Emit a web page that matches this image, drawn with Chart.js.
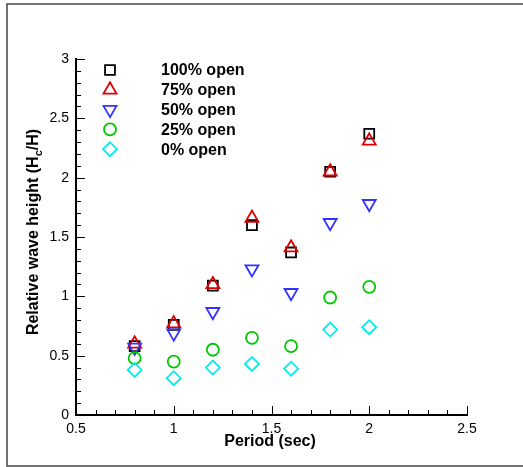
<!DOCTYPE html>
<html>
<head>
<meta charset="UTF-8">
<title>Relative wave height</title>
<script src="https://cdn.jsdelivr.net/npm/chart.js"></script>
<style>
    body { margin: 0; background: #fff; }
    canvas { display: block; }
</style>
</head>
<body>
<canvas id="chart" width="523" height="467"></canvas>
<script>
    // data
    const periods = [0.8, 1.0, 1.2, 1.4, 1.6, 1.8, 2.0];
    const open100 = [0.58, 0.76, 1.09, 1.60, 1.37, 2.05, 2.37];
    const open75  = [0.60, 0.77, 1.10, 1.66, 1.41, 2.05, 2.31];
    const open50  = [0.57, 0.69, 0.87, 1.23, 1.03, 1.62, 1.78];
    const open25  = [0.48, 0.45, 0.55, 0.65, 0.58, 0.99, 1.08];
    const open0   = [0.38, 0.31, 0.40, 0.43, 0.39, 0.72, 0.74];
    const seriesNames = ['100% open', '75% open', '50% open', '25% open', '0% open'];
    const xTicks = [0.5, 1, 1.5, 2, 2.5];
    const yTicks = [0, 0.5, 1, 1.5, 2, 2.5, 3];

    const toPoints = (vals) => vals.map((v, i) => ({ x: periods[i], y: v }));

    const styles = [
        { color: '#000000', pointStyle: 'rect', rotation: 0, radius: 7 },
        { color: '#dd0000', pointStyle: 'triangle', rotation: 0, radius: 7.5 },
        { color: '#3333ff', pointStyle: 'triangle', rotation: 180, radius: 7.5 },
        { color: '#00c800', pointStyle: 'circle', rotation: 0, radius: 6 },
        { color: '#00eeee', pointStyle: 'rectRot', rotation: 0, radius: 7 }
    ];
    const allValues = [open100, open75, open50, open25, open0];

    const datasets = allValues.map((vals, i) => ({
        label: seriesNames[i],
        data: toPoints(vals),
        pointStyle: styles[i].pointStyle,
        rotation: styles[i].rotation,
        radius: styles[i].radius,
        hoverRadius: styles[i].radius,
        borderColor: styles[i].color,
        backgroundColor: 'rgba(0,0,0,0)',
        borderWidth: 1.8,
        order: 5 - i
    }));

    // inward ticks, legend, axis titles and outer frame
    const decorations = {
        id: 'decorations',
        afterDraw(chart) {
            const ctx = chart.ctx;
            const xs = chart.scales.x, ys = chart.scales.y;
            const area = chart.chartArea;
            ctx.save();
            ctx.strokeStyle = '#000';
            ctx.lineWidth = 1;
            for (let k = 5; k <= 25; k++) {
                const px = Math.round(xs.getPixelForValue(k / 10)) + 0.5;
                const len = k % 5 === 0 ? 9 : 5;
                ctx.beginPath();
                ctx.moveTo(px, area.bottom);
                ctx.lineTo(px, area.bottom - len);
                ctx.stroke();
            }
            for (let k = 0; k <= 30; k++) {
                const py = Math.round(ys.getPixelForValue(k / 10)) + 0.5;
                const len = k % 5 === 0 ? 9 : 5;
                ctx.beginPath();
                ctx.moveTo(area.left, py);
                ctx.lineTo(area.left + len, py);
                ctx.stroke();
            }

            // legend
            ctx.font = 'bold 16px Arial, "Liberation Sans", sans-serif';
            ctx.textBaseline = 'middle';
            ctx.textAlign = 'left';
            seriesNames.forEach((name, i) => {
                const y = 70 + i * 19.8;
                ctx.strokeStyle = styles[i].color;
                ctx.fillStyle = 'rgba(0,0,0,0)';
                ctx.lineWidth = 1.8;
                Chart.helpers.drawPoint(ctx, {
                    pointStyle: styles[i].pointStyle,
                    rotation: styles[i].rotation,
                    radius: styles[i].radius,
                    borderWidth: 1.8
                }, 110, y);
                ctx.fillStyle = '#000';
                ctx.fillText(name, 161, y + 1);
            });

            // x title
            ctx.fillStyle = '#000';
            ctx.textAlign = 'center';
            ctx.fillText('Period (sec)', 270, 442);

            // y title with subscript
            ctx.save();
            ctx.translate(34, 232);
            ctx.rotate(-Math.PI / 2);
            const partA = 'Relative wave height (H';
            const partB = 'c';
            const partC = '/H)';
            ctx.font = 'bold 16px Arial, "Liberation Sans", sans-serif';
            const wA = ctx.measureText(partA).width;
            const wC = ctx.measureText(partC).width;
            ctx.font = 'bold 11px Arial, "Liberation Sans", sans-serif';
            const wB = ctx.measureText(partB).width;
            let x0 = -(wA + wB + wC) / 2;
            ctx.textAlign = 'left';
            ctx.font = 'bold 16px Arial, "Liberation Sans", sans-serif';
            ctx.fillText(partA, x0, 0);
            ctx.font = 'bold 11px Arial, "Liberation Sans", sans-serif';
            ctx.fillText(partB, x0 + wA, 5);
            ctx.font = 'bold 16px Arial, "Liberation Sans", sans-serif';
            ctx.fillText(partC, x0 + wA + wB, 0);
            ctx.restore();

            // outer frame: left, top and bottom edges only
            ctx.strokeStyle = '#444';
            ctx.lineWidth = 1.5;
            ctx.beginPath();
            ctx.moveTo(523, 4);
            ctx.lineTo(7, 4);
            ctx.lineTo(7, 466);
            ctx.lineTo(523, 466);
            ctx.stroke();
            ctx.restore();
        }
    };

    new Chart(document.getElementById('chart'), {
        type: 'scatter',
        data: { datasets },
        options: {
            responsive: false,
            animation: false,
            layout: { padding: { left: 0, top: 59, right: 56, bottom: 0 } },
            plugins: { legend: { display: false }, tooltip: { enabled: false } },
            scales: {
                x: {
                    type: 'linear',
                    min: 0.5,
                    max: 2.5,
                    afterFit: (s) => { s.height = 52; },
                    afterBuildTicks: (s) => { s.ticks = xTicks.map(v => ({ value: v })); },
                    grid: { display: false, drawTicks: false },
                    border: { display: true, color: '#000', width: 2 },
                    ticks: {
                        color: '#000',
                        padding: 6,
                        maxRotation: 0,
                        font: { family: 'Arial, "Liberation Sans", sans-serif', size: 14 },
                        callback: (v) => String(v)
                    }
                },
                y: {
                    type: 'linear',
                    min: 0,
                    max: 3,
                    afterFit: (s) => { s.width = 76; },
                    afterBuildTicks: (s) => { s.ticks = yTicks.map(v => ({ value: v })); },
                    grid: { display: false, drawTicks: false },
                    border: { display: true, color: '#000', width: 2 },
                    ticks: {
                        color: '#000',
                        padding: 7,
                        font: { family: 'Arial, "Liberation Sans", sans-serif', size: 14 },
                        callback: (v) => String(v)
                    }
                }
            }
        },
        plugins: [decorations]
    });
</script>
</body>
</html>
